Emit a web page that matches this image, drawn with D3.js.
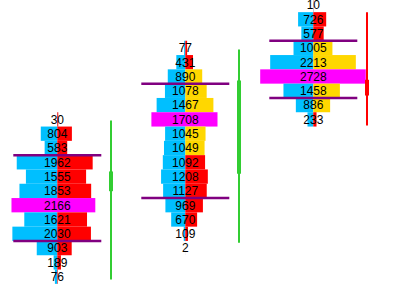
<!DOCTYPE html>
<html>
<head>
<meta charset="utf-8">
<script src="https://cdn.jsdelivr.net/npm/d3@7"></script>
<style>
  body { margin: 0; background: #fff; }
  svg { display: block; }
  text { font-family: "Liberation Sans", Arial, sans-serif; font-size: 12px; }
</style>
</head>
<body>
<svg id="profile"></svg>
<script>
var width = 394;
var height = 284;

// price level of the first (top) row of each profile
var topLevels = [11, 16, 19];

// total volume per row, top to bottom
var totals1 = [30, 804, 583, 1962, 1555, 1853, 2166, 1621, 2030, 903, 189, 76];
var totals2 = [77, 431, 890, 1078, 1467, 1708, 1045, 1049, 1092, 1208, 1127, 969, 670, 109, 2];
var totals3 = [10, 726, 577, 1005, 2213, 2728, 1458, 886, 233];

// bid part of each row (left, blue)
var bids1 = [5, 427, 327, 1048, 811, 978, 1184, 853, 1161, 531, 95, 62];
var bids2 = [30, 232, 453, 526, 741, 876, 522, 551, 581, 626, 573, 514, 365, 40, 1];
var bids3 = [5, 393, 309, 511, 1114, 1372, 771, 451, 150];

// ask side colour: r = red, y = yellow
var askSide1 = ["r","r","r","r","r","r","r","r","r","r","r","r"];
var askSide2 = ["r","r","y","y","y","y","y","y","r","r","r","r","r","r","r"];
var askSide3 = ["r","r","r","y","y","y","y","y","r"];

// value area (high row, low row) as price levels
var valueHigh = [8, 13, 16];
var valueLow = [3, 6, 13];

// candle per profile
var opens = [5.98, 7.2, 13.77];
var highs = [10.92, 15.89, 18.5];
var lows = [-0.2, 2.37, 10.57];
var closes = [7.36, 13.72, 12.67];

var totals = [totals1, totals2, totals3];
var bids = [bids1, bids2, bids3];
var askSides = [askSide1, askSide2, askSide3];

var colors = {bid: "#00bfff", r: "#ff0000", y: "#ffd700", poc: "#ff00ff",
              va: "#800080", up: "#32cd32", down: "#ff0000"};

var svg = d3.select("#profile").attr("width", width).attr("height", height);

var xScale = d3.scaleLinear().domain([0, 2]).range([57.3, 313.3]);
var yScale = d3.scaleLinear().domain([19, 0]).range([5, 276.7]);
var rowH = Math.abs(yScale(1) - yScale(0));
var wScale = d3.scaleLinear().domain([0, 1000]).range([0, 38.7]);

var candleOffset = 53.7;
var vaHalf = 44;

var profiles = totals.map(function(t, i) {
  var rows = t.map(function(v, j) {
    return {price: topLevels[i] - j, total: v, bid: bids[i][j],
            ask: v - bids[i][j], side: askSides[i][j]};
  });
  var poc = d3.maxIndex(t);
  rows[poc].poc = true;
  return {i: i, rows: rows, vah: valueHigh[i], val: valueLow[i],
          o: opens[i], h: highs[i], l: lows[i], c: closes[i]};
});

var g = svg.selectAll("g.profile")
.data(profiles)
.enter()
.append("g")
.attr("class", "profile")
.attr("transform", function(d) { return `translate(${xScale(d.i)},0)`; });

var row = g.selectAll("g.row")
.data(function(d) { return d.rows; })
.enter()
.append("g")
.attr("class", "row");

row.filter(function(d) { return !d.poc; })
.append("rect")
.attr("x", function(d) { return -wScale(d.bid); })
.attr("y", function(d) { return yScale(d.price) - rowH / 2; })
.attr("width", function(d) { return wScale(d.bid); })
.attr("height", rowH)
.attr("fill", colors.bid);

row.filter(function(d) { return !d.poc; })
.append("rect")
.attr("x", 0)
.attr("y", function(d) { return yScale(d.price) - rowH / 2; })
.attr("width", function(d) { return wScale(d.ask); })
.attr("height", rowH)
.attr("fill", function(d) { return colors[d.side]; });

row.filter(function(d) { return d.poc; })
.append("rect")
.attr("x", function(d) { return -wScale(d.bid); })
.attr("y", function(d) { return yScale(d.price) - rowH / 2; })
.attr("width", function(d) { return wScale(d.total); })
.attr("height", rowH)
.attr("fill", colors.poc);

// value area lines
g.selectAll("line.va")
.data(function(d) { return [yScale(d.vah) - rowH / 2, yScale(d.val) + rowH / 2]; })
.enter()
.append("line")
.attr("x1", -vaHalf)
.attr("x2", vaHalf)
.attr("y1", function(d) { return d; })
.attr("y2", function(d) { return d; })
.attr("stroke", colors.va)
.attr("stroke-width", 2.5);

row.append("text")
.attr("x", 0)
.attr("y", function(d) { return yScale(d.price); })
.attr("dy", "0.36em")
.attr("text-anchor", "middle")
.attr("fill", "#000")
.text(function(d) { return d.total; });

// candles
g.append("line")
.attr("x1", candleOffset)
.attr("x2", candleOffset)
.attr("y1", function(d) { return yScale(d.h); })
.attr("y2", function(d) { return yScale(d.l); })
.attr("stroke", function(d) { return d.c >= d.o ? colors.up : colors.down; })
.attr("stroke-width", 2);

g.append("rect")
.attr("x", candleOffset - 2)
.attr("y", function(d) { return yScale(Math.max(d.o, d.c)); })
.attr("width", 4)
.attr("height", function(d) { return Math.abs(yScale(d.o) - yScale(d.c)); })
.attr("fill", function(d) { return d.c >= d.o ? colors.up : colors.down; });
</script>
</body>
</html>
